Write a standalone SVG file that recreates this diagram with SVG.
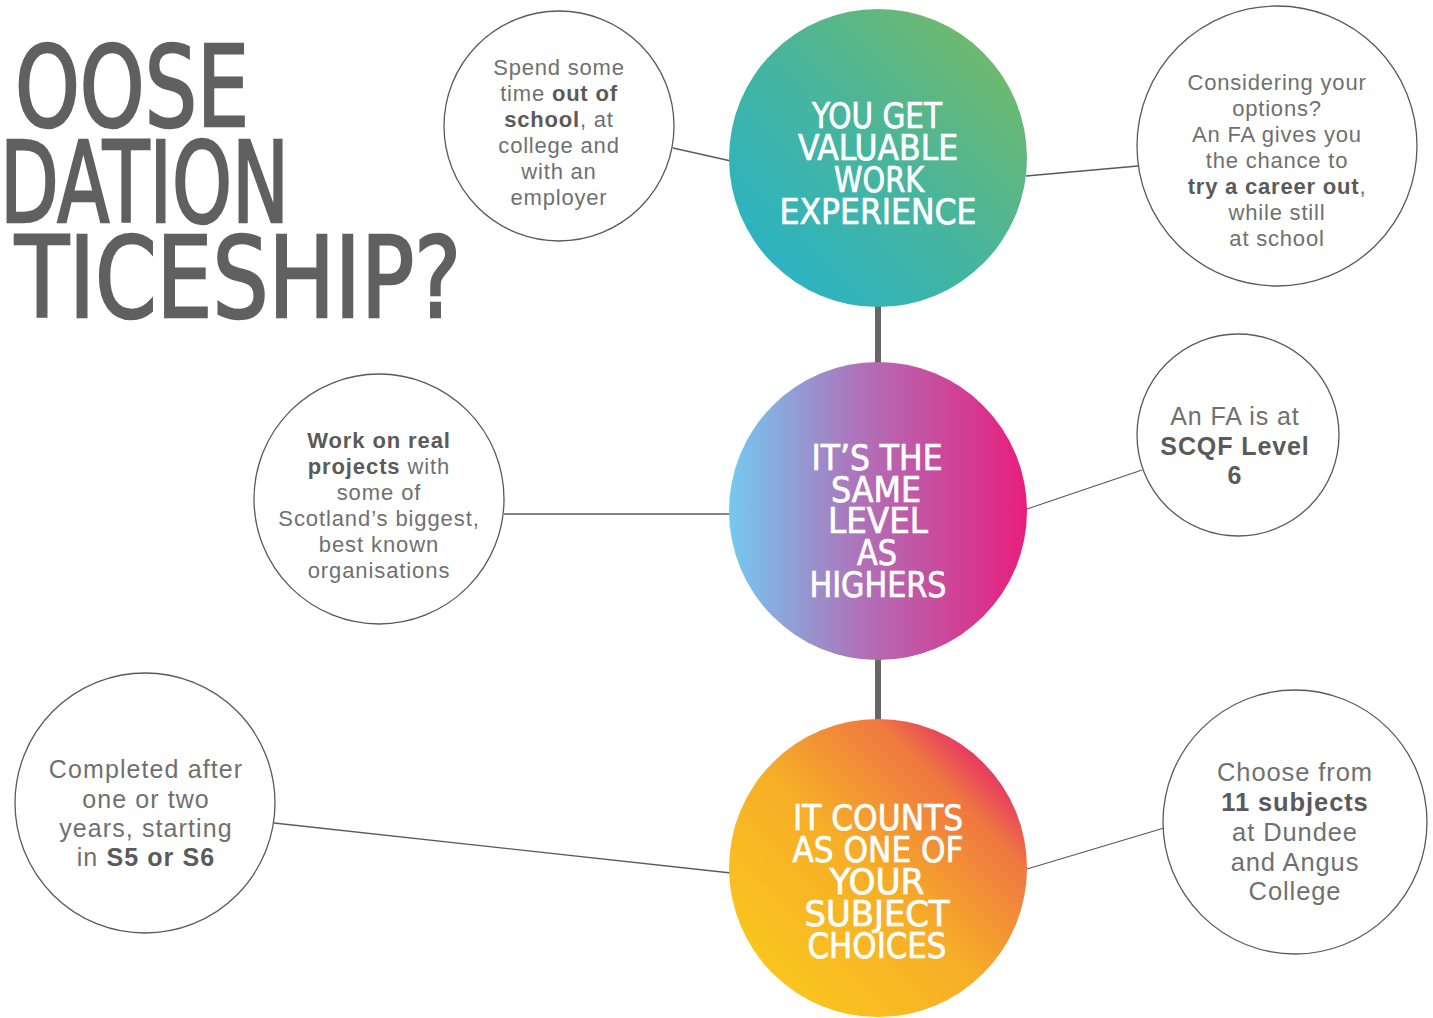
<svg xmlns="http://www.w3.org/2000/svg" width="1433" height="1018" viewBox="0 0 1433 1018">
<style>
.title{font-family:'DejaVu Sans Condensed','DejaVu Sans',sans-serif;font-stretch:condensed;font-size:112px;fill:#606060;stroke:#606060;stroke-width:2.5;}
.big{font-family:'DejaVu Sans Condensed','DejaVu Sans',sans-serif;font-stretch:condensed;font-size:36px;fill:#ffffff;stroke:#ffffff;stroke-width:0.7;text-anchor:middle;}
.bub{fill:#ffffff;stroke:#5a5a5a;stroke-width:1.3;}
.t{font-family:'Liberation Sans',Arial,sans-serif;fill:#707070;text-anchor:middle;}
.b{font-weight:700;fill:#5a5a5a;}
.thin{stroke:#5a5a5a;stroke-width:1.3;fill:none;}
.thick{stroke:#666666;stroke-width:6;fill:none;}
</style>
<defs>
<linearGradient id="gTop" x1="0" y1="1" x2="1" y2="0">
<stop offset="0" stop-color="#22b2cf"/>
<stop offset="0.5" stop-color="#47b59e"/>
<stop offset="1" stop-color="#7dba5c"/>
</linearGradient>
<linearGradient id="gMid" x1="0" y1="0" x2="1" y2="0">
<stop offset="0" stop-color="#74c9f0"/>
<stop offset="0.45" stop-color="#b070b8"/>
<stop offset="1" stop-color="#e81e7c"/>
</linearGradient>
<linearGradient id="gBot" x1="0.15" y1="0.85" x2="0.9" y2="0.1">
<stop offset="0" stop-color="#fac41e"/>
<stop offset="0.45" stop-color="#f6ad28"/>
<stop offset="0.8" stop-color="#ef7742"/>
<stop offset="1" stop-color="#e21f6e"/>
</linearGradient>
</defs>
<rect x="0" y="0" width="1433" height="1018" fill="#ffffff"/>

<g id="title">
<text class="title" x="15" y="126" textLength="234" lengthAdjust="spacingAndGlyphs">OOSE</text>
<text class="title" x="0" y="222" textLength="289" lengthAdjust="spacingAndGlyphs">DATION</text>
<text class="title" x="15" y="317" textLength="446" lengthAdjust="spacingAndGlyphs">TICESHIP?</text>
</g>

<g id="connectors">
<line class="thick" x1="878" y1="300" x2="878" y2="368"/>
<line class="thick" x1="878" y1="655" x2="878" y2="725"/>
<line class="thin" x1="673" y1="148" x2="731" y2="161"/>
<line class="thin" x1="1026" y1="176" x2="1138" y2="166"/>
<line class="thin" x1="504" y1="514" x2="731" y2="514"/>
<line class="thin" x1="1027" y1="509" x2="1142" y2="470"/>
<line class="thin" x1="274" y1="823" x2="731" y2="873"/>
<line class="thin" x1="1027" y1="869" x2="1164" y2="828"/>
</g>

<g id="node-work-experience">
<circle cx="878" cy="158" r="149" fill="url(#gTop)"/>
<text class="big" x="877" y="128" textLength="130" lengthAdjust="spacingAndGlyphs">YOU GET</text>
<text class="big" x="878" y="160" textLength="160" lengthAdjust="spacingAndGlyphs">VALUABLE</text>
<text class="big" x="879" y="192" textLength="90" lengthAdjust="spacingAndGlyphs">WORK</text>
<text class="big" x="878" y="224" textLength="197" lengthAdjust="spacingAndGlyphs">EXPERIENCE</text>
</g>

<g id="node-same-level">
<circle cx="878" cy="511" r="149" fill="url(#gMid)"/>
<text class="big" x="877" y="470" textLength="131" lengthAdjust="spacingAndGlyphs">IT’S THE</text>
<text class="big" x="876" y="502" textLength="90" lengthAdjust="spacingAndGlyphs">SAME</text>
<text class="big" x="878" y="533" textLength="100" lengthAdjust="spacingAndGlyphs">LEVEL</text>
<text class="big" x="877" y="565" textLength="40" lengthAdjust="spacingAndGlyphs">AS</text>
<text class="big" x="878" y="597" textLength="137" lengthAdjust="spacingAndGlyphs">HIGHERS</text>
</g>

<g id="node-subject-choices">
<circle cx="878" cy="868" r="149" fill="url(#gBot)"/>
<text class="big" x="878" y="830" textLength="170" lengthAdjust="spacingAndGlyphs">IT COUNTS</text>
<text class="big" x="878" y="862" textLength="171" lengthAdjust="spacingAndGlyphs">AS ONE OF</text>
<text class="big" x="877" y="894" textLength="95" lengthAdjust="spacingAndGlyphs">YOUR</text>
<text class="big" x="877" y="926" textLength="145" lengthAdjust="spacingAndGlyphs">SUBJECT</text>
<text class="big" x="877" y="958" textLength="139" lengthAdjust="spacingAndGlyphs">CHOICES</text>
</g>

<g id="node-spend-time">
<circle class="bub" cx="559" cy="126" r="115"/>
<g class="t" font-size="22" letter-spacing="0.8">
<text x="559" y="75">Spend some</text>
<text x="559" y="101">time <tspan class="b">out of</tspan></text>
<text x="559" y="127"><tspan class="b">school</tspan>, at</text>
<text x="559" y="153">college and</text>
<text x="559" y="179">with an</text>
<text x="559" y="205">employer</text>
</g>
</g>

<g id="node-considering">
<circle class="bub" cx="1277" cy="146" r="140"/>
<g class="t" font-size="22" letter-spacing="0.8">
<text x="1277" y="90">Considering your</text>
<text x="1277" y="116">options?</text>
<text x="1277" y="142">An FA gives you</text>
<text x="1277" y="168">the chance to</text>
<text x="1277" y="194"><tspan class="b">try a career out</tspan>,</text>
<text x="1277" y="220">while still</text>
<text x="1277" y="246">at school</text>
</g>
</g>

<g id="node-real-projects">
<circle class="bub" cx="379" cy="499" r="125"/>
<g class="t" font-size="22" letter-spacing="0.9">
<text x="379" y="448" class="b">Work on real</text>
<text x="379" y="474"><tspan class="b">projects</tspan> with</text>
<text x="379" y="500">some of</text>
<text x="379" y="526">Scotland’s biggest,</text>
<text x="379" y="552">best known</text>
<text x="379" y="578">organisations</text>
</g>
</g>

<g id="node-scqf">
<circle class="bub" cx="1238" cy="435" r="101"/>
<g class="t" font-size="25" letter-spacing="0.9">
<text x="1235" y="425">An FA is at</text>
<text x="1235" y="455" class="b">SCQF Level</text>
<text x="1235" y="484" class="b">6</text>
</g>
</g>

<g id="node-completed">
<circle class="bub" cx="145" cy="803" r="130"/>
<g class="t" font-size="25" letter-spacing="1.1">
<text x="146" y="778">Completed after</text>
<text x="146" y="808">one or two</text>
<text x="146" y="837">years, starting</text>
<text x="146" y="866">in <tspan class="b">S5 or S6</tspan></text>
</g>
</g>

<g id="node-choose">
<circle class="bub" cx="1295" cy="822" r="132"/>
<g class="t" font-size="25.5" letter-spacing="0.9">
<text x="1295" y="781">Choose from</text>
<text x="1295" y="811" class="b">11  subjects</text>
<text x="1295" y="841">at Dundee</text>
<text x="1295" y="871">and Angus</text>
<text x="1295" y="900">College</text>
</g>
</g>
</svg>
